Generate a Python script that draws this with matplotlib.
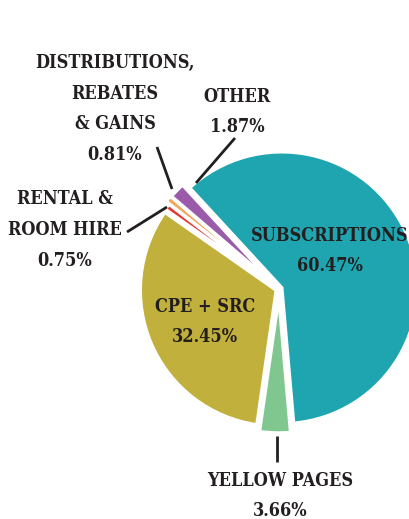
import matplotlib
matplotlib.use("Agg")
import matplotlib.pyplot as plt
from matplotlib import font_manager

# revenue shares (%), counter-clockwise starting at the bottom
labels = ["SUBSCRIPTIONS", "OTHER", "DISTRIBUTIONS,\nREBATES\n& GAINS",
          "RENTAL &\nROOM HIRE", "CPE + SRC", "YELLOW PAGES"]
shares = [60.47, 1.87, 0.81, 0.75, 32.45, 3.66]
colors = ["#1fa5b0", "#9b5bab", "#f2a85c", "#e4392f", "#c1b03c", "#80c68f"]
explode_px = [3, 6, 7, 3, 3, 8]

# pick a narrow / condensed bold face if one is installed
names = {f.name for f in font_manager.fontManager.ttflist}
font_kw = dict(family="DejaVu Sans", fontstretch="condensed")
size = 12
if "Liberation Sans Narrow" in names:
    font_kw = dict(family="Liberation Sans Narrow")
    size = 14.5
elif any(f.name == "DejaVu Serif" and "Condensed" in f.fname for f in font_manager.fontManager.ttflist):
    font_kw = dict(family="DejaVu Serif", fontstretch="condensed")
    size = 13

W, H = 409, 519
fig = plt.figure(figsize=(W / 100, H / 100), dpi=100)
ax = fig.add_axes([0, 0, 1, 1])

def py(y):
    return H - y

ax.pie(shares, colors=colors, startangle=-85, counterclock=True,
       center=(279, py(289)), radius=136, explode=explode_px,
       wedgeprops=dict(edgecolor="white", linewidth=2.5))
ax.set_xlim(0, W)
ax.set_ylim(0, H)
ax.set_aspect("equal")
ax.axis("off")

ink = "#231f20"
# label anchor (text centre) and leader line end points, in pixels from top-left
label_pos = [(330, 251), (237, 112), (115, 109), (65, 230), (205, 322), (280, 496)]
leaders = [None, [(235, 138), (196, 183)], [(157, 147), (172, 189)],
           [(127, 232), (167, 207)], None, [(277, 436), (277, 462)]]

for lab, val, (x, y), ld in zip(labels, shares, label_pos, leaders):
    ax.text(x, py(y), f"{lab}\n{val:.2f}%", ha="center", va="center",
            fontsize=size, fontweight="bold", color=ink, linespacing=1.9,
            **font_kw)
    if ld:
        (x0, y0), (x1, y1) = ld
        ax.plot([x0, x1], [py(y0), py(y1)], color=ink, lw=2, solid_capstyle="butt")

fig.savefig("out.png", dpi=100)
